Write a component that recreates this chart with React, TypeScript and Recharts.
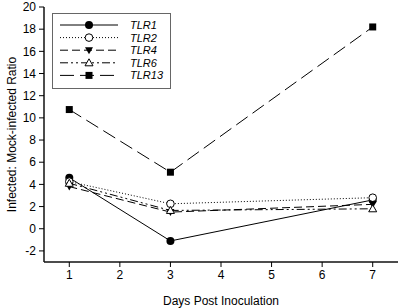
import { Line, LineChart, XAxis, YAxis } from 'recharts'

const days = [1, 3, 7]
const tlr1 = [4.6, -1.1, 2.6]
const tlr2 = [4.25, 2.25, 2.8]
const tlr4 = [3.8, 1.5, 2.2]
const tlr6 = [4.1, 1.65, 1.8]
const tlr13 = [10.75, 5.1, 18.2]
const xTicks = [1, 2, 3, 4, 5, 6, 7]
const yTicks = [-2, 0, 2, 4, 6, 8, 10, 12, 14, 16, 18, 20]

const data = days.map((d, i) => ({
  day: d,
  tlr1: tlr1[i],
  tlr2: tlr2[i],
  tlr4: tlr4[i],
  tlr6: tlr6[i],
  tlr13: tlr13[i],
}))

type Kind = 'fcircle' | 'ocircle' | 'tdown' | 'tup' | 'square'

function Marker({ cx, cy, kind }: { cx: number; cy: number; kind: Kind }) {
  if (cx == null || cy == null) return null
  switch (kind) {
    case 'fcircle':
      return <circle cx={cx} cy={cy} r={4} fill="#000" />
    case 'ocircle':
      return <circle cx={cx} cy={cy} r={3.8} fill="#fff" stroke="#000" strokeWidth={1} />
    case 'tdown':
      return <path d={`M${cx - 4},${cy - 3} L${cx + 4},${cy - 3} L${cx},${cy + 4} Z`} fill="#000" />
    case 'tup':
      return (
        <path
          d={`M${cx - 4},${cy + 3} L${cx + 4},${cy + 3} L${cx},${cy - 4} Z`}
          fill="#fff"
          stroke="#000"
          strokeWidth={1}
        />
      )
    default:
      return <rect x={cx - 3.5} y={cy - 3.5} width={7} height={7} fill="#000" />
  }
}

const series: { key: string; name: string; dash: string; kind: Kind }[] = [
  { key: 'tlr1', name: 'TLR1', dash: '', kind: 'fcircle' },
  { key: 'tlr2', name: 'TLR2', dash: '1 2', kind: 'ocircle' },
  { key: 'tlr4', name: 'TLR4', dash: '8 4', kind: 'tdown' },
  { key: 'tlr6', name: 'TLR6', dash: '8 3 2 3 2 3', kind: 'tup' },
  { key: 'tlr13', name: 'TLR13', dash: '14 6', kind: 'square' },
]

function LegendBox() {
  return (
    <svg width={120} height={77}>
      <rect x={0.5} y={0.5} width={118} height={75} fill="#fff" stroke="#666" />
      {series.map((s, i) => {
        const y = 12 + i * 12.6
        return (
          <g key={s.key}>
            <line x1={8} x2={66} y1={y} y2={y} stroke="#000" strokeDasharray={s.dash || undefined} />
            <Marker cx={37} cy={y} kind={s.kind} />
            <text
              x={78}
              y={y + 4}
              fontSize={11}
              fontStyle="italic"
              fontFamily="Liberation Sans, Arial, sans-serif"
              fill="#000"
            >
              {s.name}
            </text>
          </g>
        )
      })}
    </svg>
  )
}

const tickStyle = { fontSize: 12, fill: '#000', fontFamily: 'Liberation Sans, Arial, sans-serif' }

export default function App() {
  return (
    <div style={{ position: 'absolute', left: 0, top: 0, width: 400, height: 308, background: '#fff' }}>
      <LineChart width={400} height={308} data={data} margin={{ top: 7, right: 2, bottom: 0, left: 0 }}>
        <XAxis
          dataKey="day"
          type="number"
          domain={[0.5, 7.5]}
          ticks={xTicks}
          tick={tickStyle}
          tickSize={5}
          tickMargin={3}
          height={46}
          axisLine={{ stroke: '#111', strokeWidth: 1.5 }}
          tickLine={{ stroke: '#000' }}
          label={{
            value: 'Days Post Inoculation',
            position: 'insideBottom',
            offset: 3,
            style: { ...tickStyle, fontSize: 12 },
          }}
        />
        <XAxis
          xAxisId="top"
          dataKey="day"
          type="number"
          orientation="top"
          domain={[0.5, 7.5]}
          tick={false}
          tickLine={false}
          height={0}
          axisLine={{ stroke: '#444', strokeWidth: 1.5 }}
        />
        <YAxis
          type="number"
          domain={[-3, 20]}
          ticks={yTicks}
          tick={tickStyle}
          tickSize={5}
          tickMargin={3}
          width={44}
          interval={0}
          axisLine={{ stroke: '#111', strokeWidth: 1.5 }}
          tickLine={{ stroke: '#000' }}
          label={{
            value: 'Infected: Mock-infected Ratio',
            angle: -90,
            position: 'insideLeft',
            offset: 12,
            style: { ...tickStyle, fontSize: 12, textAnchor: 'middle' },
          }}
        />
        <YAxis
          yAxisId="right"
          orientation="right"
          domain={[-3, 20]}
          tick={false}
          tickLine={false}
          width={0}
          axisLine={{ stroke: '#444', strokeWidth: 1.5 }}
        />
        {series.map((s) => (
          <Line
            key={s.key}
            dataKey={s.key}
            name={s.name}
            stroke="#000"
            strokeWidth={1}
            strokeDasharray={s.dash || undefined}
            isAnimationActive={false}
            dot={(p: any) => <Marker key={`${s.key}-${p.index}`} cx={p.cx} cy={p.cy} kind={s.kind} />}
            activeDot={false}
          />
        ))}
      </LineChart>
      <div style={{ position: 'absolute', left: 52, top: 13 }}>
        <LegendBox />
      </div>
    </div>
  )
}
